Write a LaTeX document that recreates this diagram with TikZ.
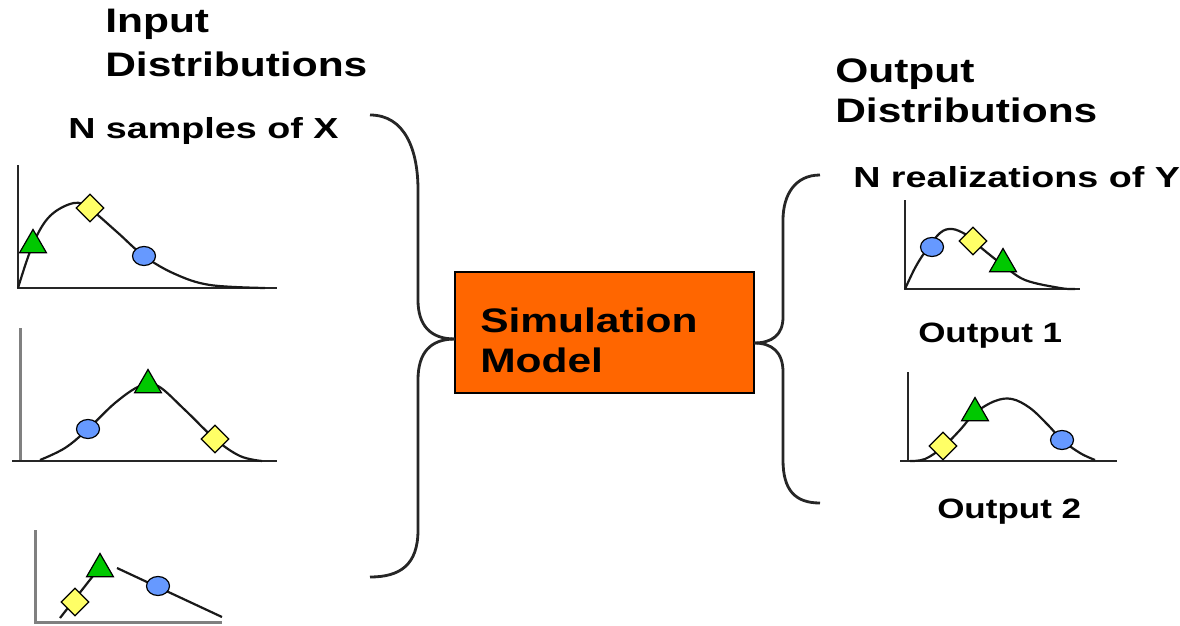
\documentclass[tikz,border=0pt]{standalone}
\usepackage{fontspec}
\setmainfont{Liberation Sans}
\usetikzlibrary{shapes.geometric}
\definecolor{simorange}{HTML}{FF6600}
\definecolor{mgreen}{HTML}{00C800}
\definecolor{myellow}{HTML}{FFFF66}
\definecolor{mblue}{HTML}{6699FF}
\tikzset{
  bigtxt/.style={anchor=base west, inner sep=0pt, xscale=1.25, font=\fontsize{34}{40}\selectfont\bfseries},
  smalltxt/.style={anchor=base west, inner sep=0pt, xscale=1.25, font=\fontsize{28}{34}\selectfont\bfseries},
  ntxt/.style={anchor=base west, inner sep=0pt, xscale=1.3, font=\fontsize{29}{34}\selectfont\bfseries},
  axisdark/.style={line width=2.6pt, black!85},
  axisgray/.style={line width=3pt, black!50},
  curve/.style={line width=2.2pt, black!90},
  brace/.style={line width=2.8pt, black!85},
  tri/.style={regular polygon, regular polygon sides=3, minimum size=31pt, inner sep=0pt, draw=black, line width=1.2pt, fill=mgreen},
  dia/.style={diamond, minimum width=28pt, minimum height=28pt, inner sep=0pt, draw=black, line width=1.2pt, fill=myellow},
  dot/.style={ellipse, minimum width=23pt, minimum height=19pt, inner sep=0pt, draw=black, line width=1.2pt, fill=mblue},
  simbox/.style={draw=black, line width=2pt, fill=simorange, minimum width=299pt, minimum height=121pt, inner sep=0pt}
}
\begin{document}
\begin{tikzpicture}[x=1pt, y=-1pt]
\useasboundingbox (0,0) rectangle (1180,626);

% titles
\node[bigtxt] (in1) at (105,33) {Input};
\node[bigtxt] (in2) at (105,77) {Distributions};
\node[ntxt] (nx) at (68,138) {N samples of X};
\node[bigtxt] (out1) at (835,82) {Output};
\node[bigtxt] (out2) at (835,122) {Distributions};
\node[ntxt] (ny) at (853,187) {N realizations of Y};
\node[smalltxt] (o1) at (918,342) {Output 1};
\node[smalltxt] (o2) at (937,518) {Output 2};

% simulation model
\node[simbox] (sim) at (604.5,332.5) {};
\node[bigtxt] (s1) at (480,332) {Simulation};
\node[bigtxt] (s2) at (480,372) {Model};

% braces
\coordinate (ltop) at (370,115);
\coordinate (lbot) at (370,577);
\coordinate (ltip) at (455,339);
\coordinate (rtop) at (820,175);
\coordinate (rbot) at (820,503);
\coordinate (rtip) at (754,343);
\draw[brace] (ltop) .. controls (405,115) and (418,150) .. (418,190) -- (418,300)
  .. controls (418,325) and (430,339) .. (ltip);
\draw[brace] (ltip) .. controls (430,339) and (418,353) .. (418,380) -- (418,530)
  .. controls (418,565) and (400,577) .. (lbot);
\draw[brace] (rtop) .. controls (795,175) and (783,195) .. (783,220) -- (783,317)
  .. controls (783,335) and (772,343) .. (rtip);
\draw[brace] (rtip) .. controls (772,343) and (783,352) .. (783,372) -- (783,460)
  .. controls (783,490) and (795,503) .. (rbot);

% chart 1
\draw[axisdark] (18,165) -- (18,288) -- (277,288);
\draw[curve] plot[smooth, tension=0.6] coordinates {(18,288) (33,244) (50,216) (74,203) (90,209) (117,232) (144,256) (175,274) (210,285) (265,288)};
\node[tri] (c1t) at (33,245) {};
\node[dia] (c1d) at (90,208) {};
\node[dot] (c1c) at (144,256) {};

% chart 2
\draw[axisgray] (20,328) -- (20,461);
\draw[axisdark] (12,461) -- (277,461);
\draw[curve] plot[smooth, tension=0.6] coordinates {(40,460) (65,448) (88,429) (115,403) (140,386) (158,386) (185,410) (215,439) (240,456) (262,461)};
\node[tri] (c2t) at (148,385) {};
\node[dia] (c2d) at (215,439) {};
\node[dot] (c2c) at (88,429) {};

% chart 3
\draw[axisgray] (35,530) -- (35,622) -- (222,622);
\draw[curve] (60,618) -- (100,567);
\draw[curve] (117,568) -- (222,617);
\node[tri] (c3t) at (100,569) {};
\node[dia] (c3d) at (75,602) {};
\node[dot] (c3c) at (158,586) {};

% chart 4
\draw[axisdark] (905,200) -- (905,289) -- (1080,289);
\draw[curve] plot[smooth, tension=0.6] coordinates {(905,289) (915,268) (925,252) (940,233) (952,229) (965,234) (973,241) (990,255) (1003,265) (1025,280) (1060,288) (1075,289)};
\node[tri] (c4t) at (1003,264) {};
\node[dia] (c4d) at (973,241) {};
\node[dot] (c4c) at (932,247) {};

% chart 5
\draw[axisdark] (908,372) -- (908,461);
\draw[axisdark] (900,461) -- (1117,461);
\draw[curve] plot[smooth, tension=0.6] coordinates {(910,461) (925,459) (943,447) (960,430) (975,413) (995,401) (1012,399) (1030,408) (1048,425) (1062,440) (1080,453) (1095,460)};
\node[tri] (c5t) at (975,413) {};
\node[dia] (c5d) at (943,446) {};
\node[dot] (c5c) at (1062,440) {};
\end{tikzpicture}
\end{document}
